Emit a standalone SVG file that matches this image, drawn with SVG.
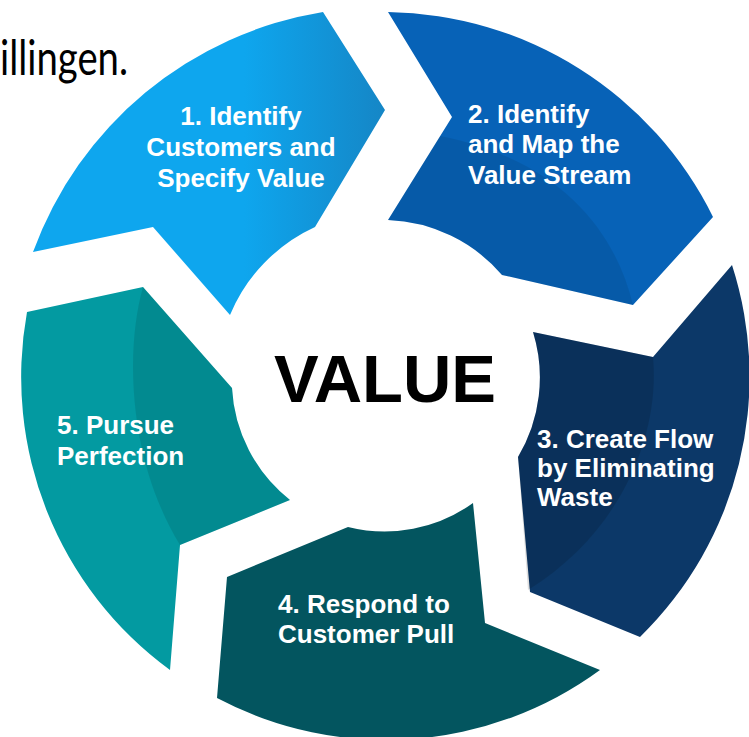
<svg xmlns="http://www.w3.org/2000/svg" width="749" height="737" viewBox="0 0 749 737">
  <defs>
    <linearGradient id="g1" x1="0" y1="0" x2="1" y2="0">
      <stop offset="0" stop-color="#0ea6ee"/>
      <stop offset="0.6" stop-color="#0ea6ee"/>
      <stop offset="1" stop-color="#1586c6"/>
    </linearGradient>
    <style>
      .lbl { font-family: "Liberation Sans", Arial, sans-serif; font-weight: bold; font-size: 26px; fill: #ffffff; }
      .shade { fill: #000000; }
    </style>
  </defs>
  <rect width="749" height="737" fill="#ffffff"/>

  <text x="0" y="75" font-family="Lato, 'Liberation Sans', sans-serif" font-size="48" fill="#000000" textLength="128" lengthAdjust="spacingAndGlyphs">illingen.</text>

  <g id="step1">
    <path d="M 33 252 A 372 372 0 0 1 323 12 L 385 110 L 315 227 A 168 168 0 0 0 230 315 L 153 227 Z" fill="url(#g1)"/>
    <text class="lbl" x="241" text-anchor="middle"><tspan x="241" y="125">1. Identify</tspan><tspan x="241" y="156">Customers and</tspan><tspan x="241" y="187">Specify Value</tspan></text>
  </g>

  <g id="step2">
    <path d="M 388 12 A 368 368 0 0 1 713 217 L 633 305 L 502 275 A 158 158 0 0 0 388 220 L 452 117 Z" fill="#0762b7"/>
    <path class="shade" opacity="0.08" d="M 633 305 C 615 230 560 160 440 136 L 388 220 A 158 158 0 0 1 502 275 Z"/>
    <text class="lbl"><tspan x="468" y="123">2. Identify</tspan><tspan x="468" y="153">and Map the</tspan><tspan x="468" y="184">Value Stream</tspan></text>
  </g>

  <g id="step3">
    <path d="M 732 265 A 364 364 0 0 1 640 637 L 530 592 L 518 457 A 155 155 0 0 0 533 332 L 653 357 Z" fill="#0c3868"/>
    <path class="shade" opacity="0.13" d="M 653 357 C 660 430 625 530 528 590 L 518 457 A 155 155 0 0 0 533 332 Z"/>
    <text class="lbl"><tspan x="537" y="448">3. Create Flow</tspan><tspan x="537" y="477">by Eliminating</tspan><tspan x="537" y="506">Waste</tspan></text>
  </g>

  <g id="step4">
    <path d="M 227 577 L 348 527 A 151 151 0 0 0 473 503 L 485 623 L 600 670 A 362 362 0 0 1 217 698 Z" fill="#03555f"/>
    <text class="lbl"><tspan x="278" y="613">4. Respond to</tspan><tspan x="278" y="643">Customer Pull</tspan></text>
  </g>

  <g id="step5">
    <path d="M 27 312 L 143 287 L 232 388 A 153 153 0 0 0 290 500 L 180 545 L 170 670 A 363 363 0 0 1 27 312 Z" fill="#039aa1"/>
    <path class="shade" opacity="0.1" d="M 143 287 C 125 350 128 460 180 545 L 290 500 A 153 153 0 0 1 232 388 Z"/>
    <text class="lbl"><tspan x="57" y="434">5. Pursue</tspan><tspan x="57" y="465">Perfection</tspan></text>
  </g>

  <g id="center">
    <text x="385" y="402" text-anchor="middle" font-family="Liberation Sans, Arial, sans-serif" font-weight="bold" font-size="67" fill="#000000">VALUE</text>
  </g>

  <g id="connectors"/>
</svg>
